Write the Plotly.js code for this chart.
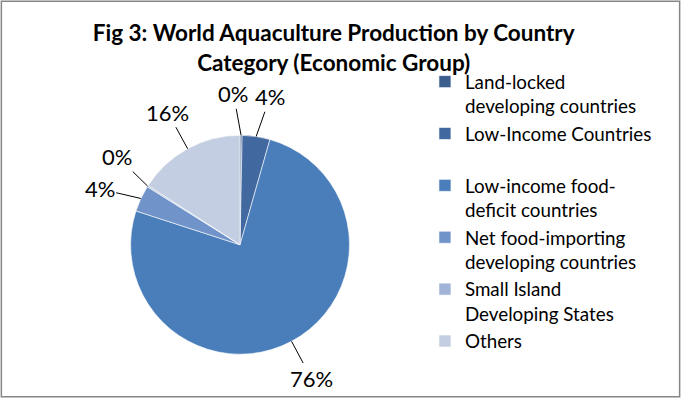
<!DOCTYPE html>
<html><head><meta charset="utf-8">
<script src="https://cdn.plot.ly/plotly-3.0.1.min.js"></script>
<style>html,body{margin:0;padding:0;background:#fff}</style>
</head><body><div id="chart" style="width:681px;height:398px"></div>
<script>
const categories = ["Land-locked<br>developing countries", "Low-Income Countries<br> ", "Low-income food-<br>deficit countries", "Net food-importing<br>developing countries", "Small Island<br>Developing States", "Others"];
const shares = [0.3, 4.1, 75.6, 3.9, 0.2, 15.9];
const colors = ["#3B5E8E", "#4169A0", "#4A7EBB", "#7093C9", "#A1B4D7", "#C4CEE2"];

const W = 681, H = 398;
const pieDomain = {x: [0.19, 0.515], y: [0.11, 0.66]};

const trace = {
  type: "pie",
  labels: categories,
  values: shares,
  sort: false,
  direction: "clockwise",
  rotation: 0,
  marker: {colors: colors, line: {color: "#ffffff", width: 0.6}},
  textinfo: "none",
  domain: pieDomain,
  hoverinfo: "none"
};

const layout = {
  width: W, height: H,
  margin: {l: 0, r: 0, t: 0, b: 0},
  paper_bgcolor: "#fff",
  font: {family: "Lato, sans-serif", color: "#000"},
  title: {text: "<b>Fig 3: World Aquaculture Production by Country<br>Category (Economic Group)</b>",
          font: {family: "Lato, sans-serif", size: 22.5, color: "#000"},
          x: 0.49, xanchor: "center", y: 0.896, yanchor: "middle"},
  showlegend: true,
  legend: {x: 0.624, xanchor: "left", y: 0.842, yanchor: "top", valign: "top",
           font: {family: "Lato, sans-serif", size: 18.8, color: "#000"},
           itemwidth: 30, traceorder: "normal", bgcolor: "rgba(0,0,0,0)"},
  shapes: [{type: "rect", xref: "paper", yref: "paper", x0: 0.002, x1: 0.998, y0: 0.003, y1: 0.997,
            line: {color: "#868686", width: 1.5}}]
};

Plotly.newPlot("chart", [trace], layout, {displayModeBar: false, staticPlot: true}).then(gd => {
  const cd0 = (gd.calcdata && gd.calcdata[0] && gd.calcdata[0][0]) || {};
  const fs = gd._fullLayout._size;
  let r = cd0.r, cx = cd0.cx, cy = cd0.cy;
  if (!(r > 0)) {
    const wpx = (pieDomain.x[1] - pieDomain.x[0]) * fs.w;
    const hpx = (pieDomain.y[1] - pieDomain.y[0]) * fs.h;
    r = Math.min(wpx, hpx) / 2;
    cx = fs.l + (pieDomain.x[0] + pieDomain.x[1]) / 2 * fs.w;
    cy = fs.t + (1 - (pieDomain.y[0] + pieDomain.y[1]) / 2) * fs.h;
  }
  const total = shares.reduce((a, b) => a + b, 0);
  // mid angles (degrees, clockwise from 12 o'clock)
  let cum = 0;
  const mids = shares.map(v => { const m = (cum + v / 2) / total * 360; cum += v; return m; });
  // spread label angles so neighbouring labels do not collide
  const minSep = 14;
  const la = mids.slice();
  for (let it = 0; it < 60; it++) {
    for (let i = 1; i < la.length; i++) {
      const gap = la[i] - la[i - 1];
      if (gap < minSep) { const d = (minSep - gap) / 2; la[i - 1] -= d; la[i] += d; }
    }
  }
  const rad = Math.PI / 180;
  const dist = 1.38 * r;
  const anns = shares.map((v, i) => {
    const ex = cx + r * Math.sin(mids[i] * rad), ey = cy - r * Math.cos(mids[i] * rad);
    const tx = cx + dist * Math.sin(la[i] * rad), ty = cy - dist * Math.cos(la[i] * rad);
    return {
      xref: "paper", yref: "paper",
      x: ex / W, y: 1 - ey / H,
      ax: tx - ex, ay: ty - ey,
      text: Math.round(v / total * 100) + "%",
      showarrow: true, arrowhead: 0, arrowwidth: 1, arrowcolor: "#000", standoff: 0,
      font: {family: "Lato, sans-serif", size: 22, color: "#000"}
    };
  });
  return Plotly.relayout(gd, {annotations: anns});
});
</script></body></html>
